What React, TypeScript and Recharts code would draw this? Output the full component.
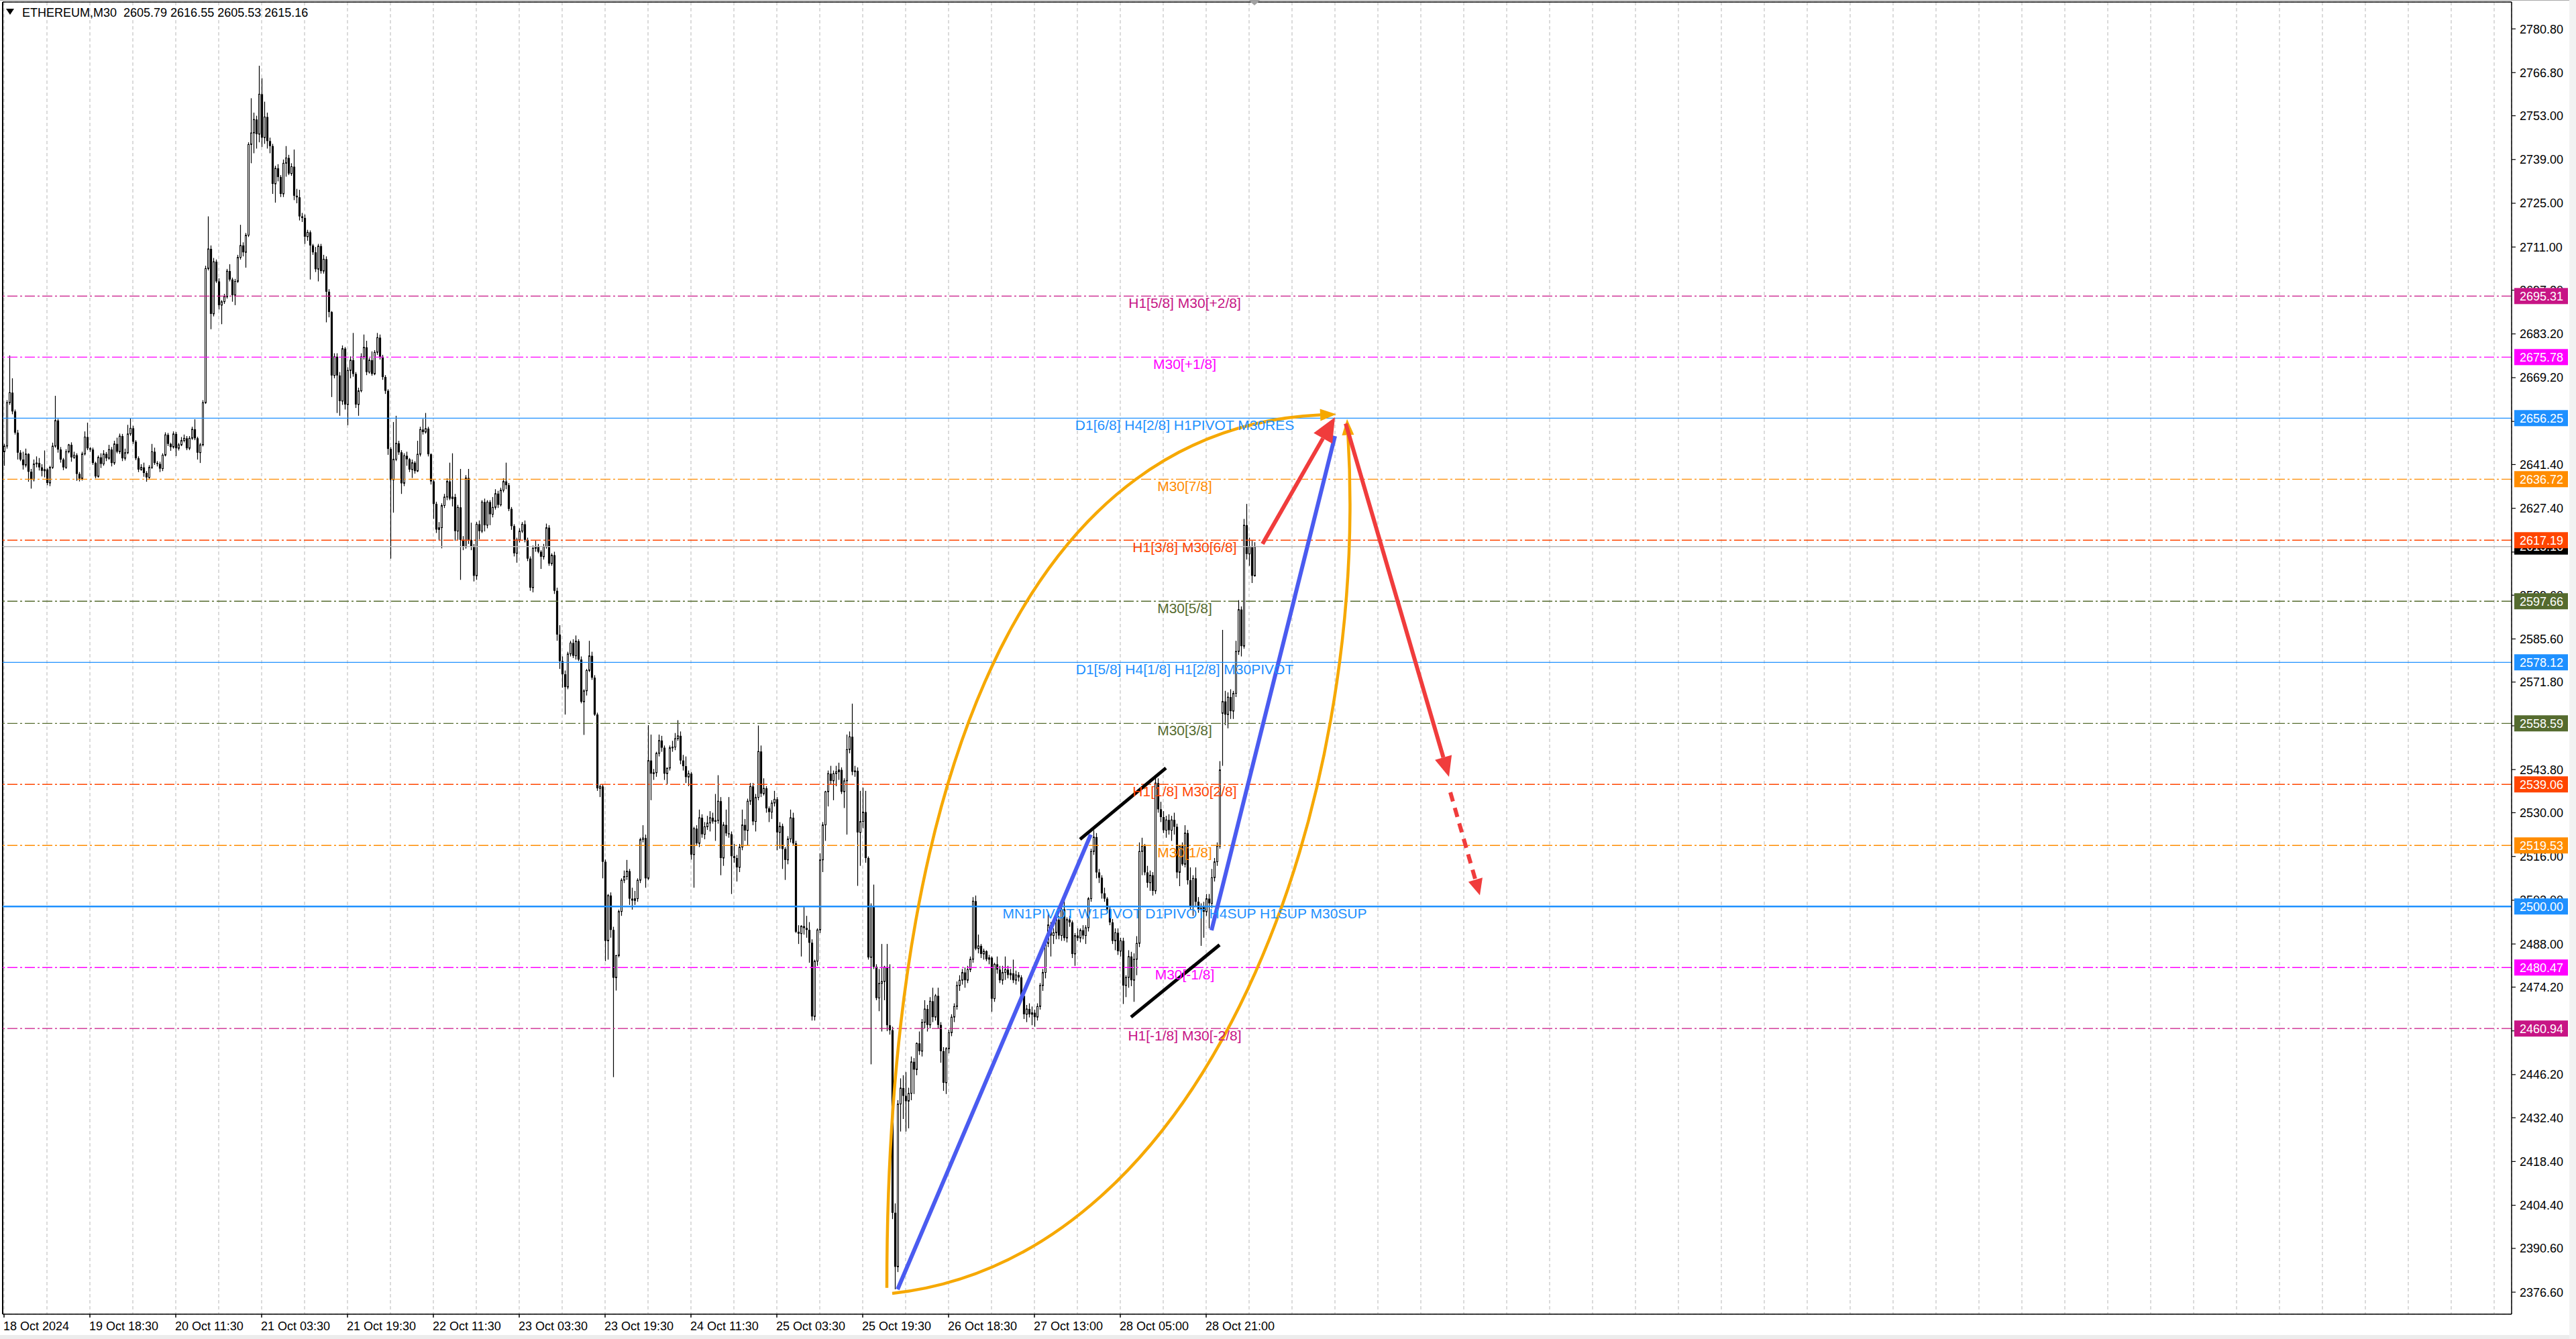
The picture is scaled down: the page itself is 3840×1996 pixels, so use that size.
import React from "react";
import {
  ComposedChart,
  Bar,
  XAxis,
  YAxis,
  CartesianGrid,
  ReferenceLine,
  ReferenceDot,
} from "recharts";

// ETHEREUM M30 candles: [open, high, low, close]
const OCT18_20 = [
  [2645.5, 2648.0, 2641.0, 2647.3], [2647.3, 2662.0, 2646.5, 2661.2], [2661.2, 2676.3, 2660.5, 2664.4], [2664.4, 2669.0, 2657.5, 2658.4],
  [2658.4, 2659.0, 2651.0, 2651.6], [2651.6, 2652.5, 2643.0, 2645.2], [2645.2, 2646.0, 2642.5, 2643.0], [2643.0, 2645.5, 2639.8, 2641.2],
  [2641.2, 2646.5, 2640.5, 2644.8], [2644.8, 2645.0, 2635.9, 2639.1], [2639.1, 2640.0, 2633.7, 2636.6], [2636.6, 2643.0, 2636.0, 2641.6],
  [2641.6, 2644.0, 2640.5, 2641.9], [2641.9, 2643.5, 2639.5, 2640.5], [2640.5, 2641.5, 2637.6, 2639.4], [2639.4, 2645.9, 2637.3, 2639.8],
  [2639.8, 2640.2, 2634.8, 2635.5], [2635.5, 2641.0, 2634.5, 2640.5], [2640.5, 2648.4, 2640.0, 2647.3], [2647.3, 2663.4, 2646.8, 2655.5],
  [2655.5, 2656.0, 2645.2, 2646.2], [2646.2, 2647.0, 2642.0, 2643.0], [2643.0, 2643.5, 2639.6, 2640.5], [2640.5, 2646.3, 2640.0, 2645.5],
  [2645.5, 2648.0, 2645.0, 2647.7], [2647.7, 2648.5, 2642.3, 2643.7], [2643.7, 2645.5, 2643.2, 2644.4], [2644.4, 2645.0, 2636.2, 2638.4],
  [2638.4, 2639.0, 2636.0, 2636.9], [2636.9, 2645.5, 2636.3, 2644.8], [2644.8, 2652.0, 2644.3, 2650.2], [2650.2, 2654.8, 2646.0, 2646.6],
  [2646.6, 2647.0, 2645.5, 2646.2], [2646.2, 2646.8, 2641.3, 2641.9], [2641.9, 2642.3, 2637.0, 2637.6], [2637.6, 2644.3, 2637.2, 2643.7],
  [2643.7, 2645.0, 2640.3, 2641.6], [2641.6, 2646.0, 2641.0, 2644.8], [2644.8, 2645.4, 2642.5, 2643.4], [2643.4, 2647.7, 2642.9, 2646.2],
  [2646.2, 2647.0, 2640.8, 2641.9], [2641.9, 2649.0, 2641.3, 2648.0], [2648.0, 2650.0, 2645.0, 2645.5], [2645.5, 2651.3, 2644.8, 2650.5],
  [2650.5, 2651.2, 2642.5, 2643.4], [2643.4, 2646.5, 2642.7, 2645.2], [2645.2, 2654.1, 2644.7, 2651.2], [2651.2, 2656.2, 2650.6, 2653.0],
  [2653.0, 2653.8, 2648.0, 2648.7], [2648.7, 2649.2, 2642.8, 2643.4], [2643.4, 2644.0, 2639.0, 2639.8], [2639.8, 2641.5, 2639.4, 2640.5],
  [2640.5, 2642.0, 2637.5, 2638.7], [2638.7, 2639.3, 2635.9, 2637.3], [2637.3, 2641.2, 2636.8, 2640.5], [2640.5, 2648.0, 2640.0, 2645.5],
  [2645.5, 2646.8, 2641.3, 2641.9], [2641.9, 2642.5, 2640.8, 2641.6], [2641.6, 2642.3, 2639.0, 2640.1], [2640.1, 2645.0, 2639.3, 2644.4],
  [2644.4, 2651.7, 2644.0, 2650.9], [2650.9, 2651.5, 2647.3, 2648.0], [2648.0, 2648.4, 2645.8, 2647.0], [2647.0, 2652.0, 2646.5, 2651.2],
  [2651.2, 2651.8, 2644.1, 2646.6], [2646.6, 2648.3, 2645.9, 2647.7], [2647.7, 2650.2, 2647.3, 2649.1], [2649.1, 2651.0, 2648.5, 2649.8],
  [2649.8, 2650.5, 2646.0, 2646.6], [2646.6, 2650.5, 2646.0, 2649.8], [2649.8, 2653.5, 2649.3, 2652.7], [2652.7, 2655.9, 2649.2, 2649.8],
  [2649.8, 2650.3, 2643.0, 2645.2], [2645.2, 2648.3, 2641.9, 2647.7], [2647.7, 2662.0, 2647.2, 2661.2],
];

const OCT20_23 = [
  [2661.2, 2705.0, 2660.8, 2704.1], [2704.1, 2720.8, 2703.5, 2710.4], [2710.4, 2711.5, 2684.7, 2689.6], [2689.6, 2707.5, 2688.8, 2706.3],
  [2706.3, 2707.0, 2699.5, 2700.0], [2700.0, 2701.0, 2691.0, 2692.4], [2692.4, 2694.0, 2686.3, 2693.5], [2693.5, 2696.0, 2692.8, 2695.1],
  [2695.1, 2704.0, 2694.5, 2703.3], [2703.3, 2705.5, 2700.0, 2700.6], [2700.6, 2701.2, 2693.5, 2695.6], [2695.6, 2700.8, 2692.4, 2700.0],
  [2700.0, 2708.5, 2699.5, 2707.7], [2707.7, 2718.1, 2707.0, 2711.5], [2711.5, 2712.5, 2708.0, 2709.3], [2709.3, 2715.5, 2704.4, 2714.8],
  [2714.8, 2744.5, 2714.2, 2743.8], [2743.8, 2758.6, 2737.8, 2747.5], [2747.5, 2754.0, 2741.0, 2751.8], [2751.8, 2753.0, 2742.5, 2747.1],
  [2747.1, 2769.0, 2744.5, 2759.9], [2759.9, 2765.0, 2743.0, 2746.0], [2746.0, 2757.5, 2744.0, 2752.6], [2752.6, 2754.0, 2742.5, 2744.9],
  [2744.9, 2746.0, 2741.0, 2743.3], [2743.3, 2744.0, 2728.0, 2731.2], [2731.2, 2737.0, 2725.2, 2736.2], [2736.2, 2737.5, 2732.0, 2733.4],
  [2733.4, 2734.0, 2727.0, 2728.0], [2728.0, 2739.0, 2727.0, 2737.8], [2737.8, 2743.3, 2733.5, 2739.5], [2739.5, 2740.5, 2734.0, 2734.5],
  [2734.5, 2737.8, 2733.8, 2736.7], [2736.7, 2742.2, 2726.0, 2727.4], [2727.4, 2729.6, 2725.0, 2726.9], [2726.9, 2729.3, 2719.5, 2720.8],
  [2720.8, 2721.9, 2719.0, 2720.3], [2720.3, 2721.4, 2712.0, 2714.3], [2714.3, 2716.5, 2713.0, 2715.7], [2715.7, 2716.3, 2700.6, 2711.5],
  [2711.5, 2712.0, 2708.5, 2709.3], [2709.3, 2711.0, 2703.0, 2703.9], [2703.9, 2712.0, 2700.0, 2711.3], [2711.3, 2712.0, 2702.5, 2703.3],
  [2703.3, 2708.5, 2702.5, 2707.1], [2707.1, 2708.0, 2686.9, 2696.7], [2696.7, 2697.5, 2688.5, 2690.2], [2690.2, 2690.5, 2663.0, 2669.9],
  [2669.9, 2677.0, 2669.0, 2675.9], [2675.9, 2677.0, 2657.9, 2669.9], [2669.9, 2671.0, 2657.0, 2661.7], [2661.7, 2679.5, 2660.5, 2678.5],
  [2678.5, 2679.0, 2659.0, 2660.6], [2660.6, 2672.5, 2654.0, 2671.5], [2671.5, 2676.0, 2669.0, 2674.8], [2674.8, 2683.5, 2669.5, 2670.4],
  [2670.4, 2671.0, 2659.5, 2660.6], [2660.6, 2666.0, 2657.0, 2665.0], [2665.0, 2677.0, 2664.5, 2675.9], [2675.9, 2683.0, 2675.0, 2678.9],
  [2678.9, 2681.0, 2670.0, 2671.0], [2671.0, 2675.5, 2670.5, 2674.8], [2674.8, 2677.6, 2669.8, 2670.4], [2670.4, 2678.0, 2670.0, 2677.3],
  [2677.3, 2683.5, 2676.5, 2682.0], [2682.0, 2683.0, 2675.0, 2675.9], [2675.9, 2676.5, 2668.5, 2669.4], [2669.4, 2670.0, 2664.0, 2665.0],
  [2665.0, 2665.5, 2644.5, 2646.4], [2646.4, 2647.0, 2611.3, 2636.5], [2636.5, 2655.0, 2626.0, 2643.1], [2643.1, 2657.0, 2642.5, 2648.2],
  [2648.2, 2649.0, 2644.5, 2645.3], [2645.3, 2646.0, 2632.0, 2635.4], [2635.4, 2645.0, 2634.5, 2644.2], [2644.2, 2645.5, 2641.0, 2643.1],
  [2643.1, 2643.5, 2639.0, 2639.8], [2639.8, 2643.0, 2637.1, 2642.0], [2642.0, 2642.5, 2638.5, 2639.3], [2639.3, 2649.0, 2639.0, 2644.7],
  [2644.7, 2653.5, 2644.0, 2652.6], [2652.6, 2656.0, 2651.0, 2651.8], [2651.8, 2657.9, 2651.3, 2652.9], [2652.9, 2653.5, 2644.0, 2644.7],
  [2644.7, 2645.0, 2635.0, 2636.0], [2636.0, 2636.5, 2624.0, 2628.8], [2628.8, 2629.5, 2619.5, 2620.6], [2620.6, 2623.0, 2617.0, 2621.2],
  [2621.2, 2629.0, 2614.6, 2628.3], [2628.3, 2632.0, 2627.5, 2631.0], [2631.0, 2637.0, 2630.0, 2636.0], [2636.0, 2642.0, 2630.0, 2630.5],
  [2630.5, 2645.0, 2628.0, 2631.0], [2631.0, 2632.0, 2617.0, 2620.1], [2620.1, 2628.5, 2617.3, 2627.7], [2627.7, 2640.0, 2604.5, 2617.3],
  [2617.3, 2618.5, 2614.0, 2615.1], [2615.1, 2638.0, 2614.5, 2637.1], [2637.1, 2640.0, 2616.0, 2617.3], [2617.3, 2622.8, 2614.0, 2615.1],
  [2615.1, 2616.0, 2604.0, 2605.8], [2605.8, 2623.0, 2604.5, 2622.3], [2622.3, 2623.5, 2617.5, 2620.1], [2620.1, 2630.0, 2619.5, 2629.4],
  [2629.4, 2630.5, 2620.0, 2622.0], [2622.0, 2630.0, 2621.0, 2629.4], [2629.4, 2630.0, 2622.0, 2625.5], [2625.5, 2631.0, 2624.5, 2627.7],
  [2627.7, 2633.5, 2627.0, 2632.1], [2632.1, 2633.0, 2627.5, 2628.5], [2628.5, 2634.0, 2628.0, 2633.2], [2633.2, 2637.0, 2632.5, 2636.0],
  [2636.0, 2642.0, 2633.5, 2634.8], [2634.8, 2635.5, 2626.5, 2627.2], [2627.2, 2627.8, 2620.5, 2621.7], [2621.7, 2622.3, 2612.0, 2613.0],
  [2613.0, 2618.0, 2610.0, 2617.3], [2617.3, 2621.0, 2616.5, 2620.1], [2620.1, 2623.0, 2619.5, 2622.3], [2622.3, 2623.5, 2616.5, 2617.3],
  [2617.3, 2618.0, 2610.5, 2611.3], [2611.3, 2612.0, 2601.0, 2602.0], [2602.0, 2615.5, 2600.5, 2614.6], [2614.6, 2617.0, 2613.5, 2615.1],
  [2615.1, 2616.0, 2613.0, 2613.5], [2613.5, 2614.0, 2608.0, 2611.9], [2611.9, 2616.0, 2611.0, 2615.1], [2615.1, 2622.5, 2614.5, 2621.2],
  [2621.2, 2622.0, 2609.0, 2609.7], [2609.7, 2613.0, 2609.0, 2612.4], [2612.4, 2613.5, 2600.0, 2601.0],
];

const OCT23_25 = [
  [2601.0, 2602.0, 2585.0, 2587.0], [2587.0, 2590.0, 2576.0, 2578.5], [2578.5, 2580.0, 2570.0, 2574.3], [2574.3, 2575.5, 2561.4, 2570.2],
  [2570.2, 2581.5, 2569.5, 2580.8], [2580.8, 2585.0, 2580.0, 2584.3], [2584.3, 2585.5, 2579.5, 2580.2], [2580.2, 2586.7, 2579.0, 2584.9],
  [2584.9, 2585.5, 2578.5, 2579.0], [2579.0, 2580.0, 2565.0, 2565.5], [2565.5, 2569.5, 2554.9, 2569.0], [2569.0, 2576.0, 2567.5, 2575.5],
  [2575.5, 2585.0, 2575.0, 2580.2], [2580.2, 2581.5, 2572.5, 2573.2], [2573.2, 2574.0, 2561.0, 2561.4], [2561.4, 2562.0, 2537.0, 2537.8],
  [2537.8, 2539.0, 2535.0, 2538.4], [2538.4, 2539.0, 2509.0, 2514.3], [2514.3, 2515.0, 2482.5, 2489.0], [2489.0, 2504.0, 2483.0, 2503.5],
  [2503.5, 2504.5, 2490.0, 2492.5], [2492.5, 2493.5, 2445.4, 2477.2], [2477.2, 2484.5, 2473.1, 2484.3], [2484.3, 2499.0, 2483.7, 2498.4],
  [2498.4, 2509.0, 2497.0, 2508.4], [2508.4, 2511.5, 2507.5, 2509.6], [2509.6, 2514.9, 2508.5, 2511.3], [2511.3, 2512.0, 2500.5, 2502.5],
  [2502.5, 2506.0, 2499.0, 2501.9], [2501.9, 2505.0, 2500.5, 2502.5], [2502.5, 2509.0, 2501.5, 2508.4], [2508.4, 2522.0, 2507.5, 2521.4],
  [2521.4, 2526.0, 2520.5, 2521.9], [2521.9, 2523.0, 2506.0, 2509.0], [2509.0, 2558.0, 2508.5, 2546.7], [2546.7, 2555.0, 2534.0, 2542.5],
  [2542.5, 2544.0, 2540.5, 2542.8], [2542.8, 2549.5, 2541.5, 2549.0], [2549.0, 2555.0, 2548.0, 2553.1], [2553.1, 2554.6, 2549.5, 2550.8],
  [2550.8, 2551.5, 2540.5, 2542.5], [2542.5, 2544.0, 2539.0, 2544.3], [2544.3, 2551.5, 2543.5, 2550.8], [2550.8, 2553.0, 2549.5, 2551.0],
  [2551.0, 2555.5, 2550.0, 2553.7], [2553.7, 2559.6, 2553.0, 2554.6], [2554.6, 2556.0, 2545.5, 2546.7], [2546.7, 2548.5, 2543.5, 2544.9],
  [2544.9, 2548.0, 2539.5, 2541.4], [2541.4, 2543.5, 2538.5, 2542.5], [2542.5, 2543.0, 2515.0, 2516.6], [2516.6, 2525.5, 2506.0, 2524.9],
  [2524.9, 2526.0, 2519.5, 2520.2], [2520.2, 2531.0, 2519.0, 2528.4], [2528.4, 2529.5, 2522.0, 2523.1], [2523.1, 2527.0, 2521.5, 2525.5],
  [2525.5, 2529.0, 2524.5, 2526.7], [2526.7, 2530.5, 2524.0, 2528.4], [2528.4, 2530.0, 2526.5, 2527.2], [2527.2, 2536.0, 2521.0, 2527.5],
  [2527.5, 2542.0, 2526.5, 2533.7], [2533.7, 2535.0, 2510.0, 2515.5], [2515.5, 2527.0, 2513.0, 2526.1], [2526.1, 2531.0, 2522.5, 2523.4],
  [2523.4, 2535.0, 2522.0, 2523.1], [2523.1, 2524.0, 2504.0, 2516.1], [2516.1, 2520.0, 2514.0, 2515.5], [2515.5, 2516.5, 2508.0, 2512.5],
  [2512.5, 2520.0, 2511.0, 2519.0], [2519.0, 2531.0, 2518.0, 2526.1], [2526.1, 2528.0, 2521.0, 2524.3], [2524.3, 2534.5, 2519.5, 2533.7],
  [2533.7, 2539.5, 2532.5, 2538.4], [2538.4, 2539.5, 2526.0, 2527.2], [2527.2, 2536.0, 2524.0, 2534.9], [2534.9, 2557.9, 2534.0, 2549.6],
  [2549.6, 2551.5, 2535.0, 2536.1], [2536.1, 2541.0, 2535.5, 2537.8], [2537.8, 2538.5, 2530.0, 2531.4], [2531.4, 2532.0, 2527.0, 2530.2],
  [2530.2, 2534.0, 2528.0, 2533.1], [2533.1, 2537.0, 2532.0, 2534.3], [2534.3, 2535.0, 2518.0, 2523.7], [2523.7, 2527.0, 2518.5, 2525.7],
  [2525.7, 2526.5, 2512.0, 2518.4], [2518.4, 2519.0, 2508.5, 2514.9], [2514.9, 2522.5, 2513.5, 2521.6], [2521.6, 2531.0, 2520.5, 2528.4],
  [2528.4, 2530.0, 2519.5, 2520.2], [2520.2, 2521.0, 2491.5, 2491.9], [2491.9, 2494.0, 2488.0, 2491.3], [2491.3, 2494.0, 2484.0, 2493.7],
  [2493.7, 2500.0, 2491.0, 2493.1], [2493.1, 2497.0, 2490.0, 2492.5], [2492.5, 2495.0, 2482.0, 2488.4], [2488.4, 2489.5, 2463.5, 2464.8],
  [2464.8, 2483.0, 2463.5, 2482.5], [2482.5, 2493.0, 2481.0, 2492.5], [2492.5, 2517.0, 2491.5, 2514.9], [2514.9, 2527.0, 2511.0, 2526.1],
  [2526.1, 2537.0, 2521.0, 2536.7], [2536.7, 2543.5, 2532.0, 2542.5], [2542.5, 2545.0, 2539.0, 2540.2], [2540.2, 2543.5, 2534.0, 2542.5],
  [2542.5, 2545.0, 2538.5, 2543.1], [2543.1, 2546.0, 2540.5, 2543.7], [2543.7, 2544.5, 2536.0, 2536.7], [2536.7, 2541.0, 2531.5, 2540.2],
  [2540.2, 2555.0, 2523.0, 2550.2], [2550.2, 2556.0, 2549.0, 2554.3], [2554.3, 2564.9, 2542.0, 2543.1], [2543.1, 2545.0, 2541.5, 2543.4],
  [2543.4, 2544.5, 2506.6, 2523.7], [2523.7, 2537.0, 2513.0, 2527.2], [2527.2, 2538.0, 2525.0, 2530.2], [2530.2, 2537.0, 2514.0, 2515.5],
  [2515.5, 2516.0, 2483.0, 2483.7], [2483.7, 2501.0, 2449.5, 2500.2], [2500.2, 2507.0, 2480.0, 2480.7], [2480.7, 2481.5, 2470.0, 2470.7],
  [2470.7, 2480.0, 2466.5, 2475.4], [2475.4, 2488.0, 2460.0, 2476.0], [2476.0, 2481.0, 2470.0, 2480.6], [2480.6, 2488.0, 2460.1, 2462.0],
  [2462.0, 2481.5, 2459.0, 2460.4], [2460.4, 2461.5, 2400.0, 2402.0], [2402.0, 2405.0, 2377.5, 2384.7], [2384.7, 2438.0, 2383.0, 2436.8],
];

const OCT26_29 = [
  [2436.8, 2445.0, 2428.0, 2441.9], [2441.9, 2446.0, 2432.0, 2439.4], [2439.4, 2447.0, 2428.0, 2437.7], [2437.7, 2442.0, 2429.0, 2440.2],
  [2440.2, 2452.0, 2438.0, 2450.3], [2450.3, 2451.5, 2440.0, 2447.8], [2447.8, 2456.5, 2446.0, 2456.2], [2456.2, 2460.0, 2452.5, 2453.7],
  [2453.7, 2464.0, 2452.0, 2462.9], [2462.9, 2470.0, 2461.0, 2467.2], [2467.2, 2468.5, 2460.0, 2462.1], [2462.1, 2471.0, 2461.0, 2469.7],
  [2469.7, 2474.0, 2463.0, 2464.6], [2464.6, 2472.0, 2463.5, 2471.4], [2471.4, 2474.0, 2461.0, 2462.1], [2462.1, 2463.0, 2450.0, 2453.7],
  [2453.7, 2455.0, 2441.0, 2443.6], [2443.6, 2455.0, 2440.0, 2454.5], [2454.5, 2460.5, 2453.0, 2459.6], [2459.6, 2465.5, 2458.5, 2464.6],
  [2464.6, 2469.0, 2463.0, 2468.0], [2468.0, 2476.0, 2467.0, 2474.7], [2474.7, 2478.0, 2473.0, 2476.4], [2476.4, 2480.0, 2475.0, 2478.9],
  [2478.9, 2480.5, 2474.0, 2476.4], [2476.4, 2481.0, 2475.5, 2479.8], [2479.8, 2484.0, 2479.0, 2483.1], [2483.1, 2503.0, 2482.0, 2501.7],
  [2501.7, 2503.5, 2486.0, 2486.5], [2486.5, 2491.0, 2485.0, 2487.4], [2487.4, 2488.0, 2483.5, 2484.8], [2484.8, 2486.5, 2483.0, 2485.7],
  [2485.7, 2486.0, 2482.5, 2483.1], [2483.1, 2484.5, 2481.5, 2483.6], [2483.6, 2484.0, 2466.3, 2470.5], [2470.5, 2482.0, 2469.5, 2481.5],
  [2481.5, 2484.0, 2478.5, 2479.8], [2479.8, 2481.0, 2475.5, 2476.4], [2476.4, 2481.0, 2475.0, 2478.9], [2478.9, 2484.0, 2476.5, 2479.8],
  [2479.8, 2481.0, 2477.0, 2478.1], [2478.1, 2480.0, 2476.5, 2478.6], [2478.6, 2483.0, 2475.5, 2476.4], [2476.4, 2479.5, 2475.0, 2478.1],
  [2478.1, 2479.0, 2476.0, 2477.3], [2477.3, 2478.0, 2471.0, 2471.4], [2471.4, 2472.0, 2464.0, 2465.5], [2465.5, 2468.5, 2463.0, 2467.2],
  [2467.2, 2469.0, 2464.5, 2465.5], [2465.5, 2468.0, 2462.0, 2466.0], [2466.0, 2467.0, 2461.5, 2464.6], [2464.6, 2469.0, 2463.5, 2468.0],
  [2468.0, 2475.5, 2467.0, 2474.7], [2474.7, 2480.0, 2473.0, 2478.9], [2478.9, 2489.0, 2477.0, 2488.2], [2488.2, 2498.0, 2487.0, 2494.1],
  [2494.1, 2495.0, 2484.0, 2490.7], [2490.7, 2493.0, 2488.0, 2491.6], [2491.6, 2496.5, 2489.5, 2495.8], [2495.8, 2497.0, 2489.5, 2490.7],
  [2490.7, 2500.0, 2489.0, 2499.1], [2499.1, 2503.5, 2489.0, 2489.9], [2489.9, 2496.5, 2488.5, 2495.8], [2495.8, 2497.0, 2493.5, 2494.9],
  [2494.9, 2495.5, 2483.5, 2484.8], [2484.8, 2491.5, 2481.0, 2490.7], [2490.7, 2493.0, 2489.0, 2489.9], [2489.9, 2493.0, 2488.5, 2492.4],
  [2492.4, 2494.0, 2489.5, 2490.7], [2490.7, 2494.0, 2488.0, 2493.2], [2493.2, 2503.0, 2492.0, 2502.5], [2502.5, 2518.5, 2501.5, 2517.6],
  [2517.6, 2524.4, 2516.5, 2522.2], [2522.2, 2523.5, 2509.0, 2510.9], [2510.9, 2512.0, 2507.5, 2509.2], [2509.2, 2510.0, 2502.5, 2504.2],
  [2504.2, 2506.0, 2501.5, 2502.5], [2502.5, 2503.0, 2498.0, 2499.1], [2499.1, 2500.0, 2494.0, 2494.9], [2494.9, 2496.0, 2488.0, 2489.0],
  [2489.0, 2493.0, 2486.0, 2491.6], [2491.6, 2493.0, 2484.5, 2485.7], [2485.7, 2490.0, 2484.0, 2489.0], [2489.0, 2490.0, 2468.8, 2474.7],
  [2474.7, 2478.0, 2471.0, 2477.3], [2477.3, 2486.0, 2474.0, 2484.0], [2484.0, 2485.5, 2474.5, 2476.4], [2476.4, 2485.0, 2469.5, 2483.1],
  [2483.1, 2490.5, 2478.0, 2488.2], [2488.2, 2520.5, 2487.0, 2517.6], [2517.6, 2522.0, 2510.0, 2519.3], [2519.3, 2520.0, 2510.0, 2510.9],
  [2510.9, 2513.0, 2506.0, 2507.6], [2507.6, 2511.5, 2505.0, 2510.0], [2510.0, 2511.0, 2503.5, 2505.0], [2505.0, 2541.5, 2504.0, 2539.5],
  [2539.5, 2541.0, 2530.0, 2531.1], [2531.1, 2533.5, 2527.0, 2528.6], [2528.6, 2530.5, 2523.5, 2524.4], [2524.4, 2529.0, 2522.0, 2527.7],
  [2527.7, 2529.5, 2523.0, 2524.4], [2524.4, 2529.0, 2521.0, 2527.7], [2527.7, 2530.0, 2523.0, 2525.5], [2525.5, 2526.5, 2509.0, 2510.9],
  [2510.9, 2519.5, 2506.5, 2519.3], [2519.3, 2520.5, 2513.0, 2513.5], [2513.5, 2526.0, 2512.5, 2523.5], [2523.5, 2524.5, 2507.0, 2508.4],
  [2508.4, 2512.5, 2499.0, 2500.0], [2500.0, 2510.0, 2497.0, 2509.0], [2509.0, 2512.5, 2500.0, 2501.5], [2501.5, 2503.0, 2498.0, 2499.1],
  [2499.1, 2501.0, 2487.4, 2500.0], [2500.0, 2501.5, 2490.0, 2498.3], [2498.3, 2504.0, 2497.0, 2502.5], [2502.5, 2504.0, 2493.0, 2501.0],
  [2501.0, 2512.0, 2499.5, 2509.2], [2509.2, 2515.5, 2508.0, 2514.3], [2514.3, 2520.5, 2513.0, 2519.3], [2519.3, 2546.5, 2518.5, 2543.7],
  [2561.8, 2588.5, 2545.0, 2565.6], [2565.6, 2569.0, 2558.0, 2561.4], [2561.4, 2568.5, 2557.0, 2567.0], [2567.0, 2569.5, 2560.0, 2562.5],
  [2562.5, 2569.0, 2560.0, 2568.2], [2568.2, 2585.0, 2567.0, 2581.6], [2581.6, 2598.0, 2580.5, 2595.0], [2595.0, 2596.0, 2580.0, 2583.3],
  [2583.3, 2624.0, 2582.5, 2622.0], [2622.0, 2628.8, 2611.0, 2612.8], [2612.8, 2618.0, 2609.0, 2615.0], [2615.0, 2617.0, 2603.5, 2605.8],
  [2605.79, 2616.55, 2605.53, 2615.16],
];

// one label every 32 bars
const TIME_LABELS = [
  "18 Oct 2024", "19 Oct 18:30", "20 Oct 11:30", "21 Oct 03:30", "21 Oct 19:30", "22 Oct 11:30", "23 Oct 03:30", "23 Oct 19:30",
  "24 Oct 11:30", "25 Oct 03:30", "25 Oct 19:30", "26 Oct 18:30", "27 Oct 13:00", "28 Oct 05:00", "28 Oct 21:00",
];

const PRICE_TICKS = [
  2376.6, 2390.6, 2404.4, 2418.4, 2432.4, 2446.2, 2460.2, 2474.2, 2488.0, 2502.0, 2516.0, 2530.0, 2543.8, 2557.8, 2571.8,
  2585.6, 2599.6, 2613.4, 2627.4, 2641.4, 2655.2, 2669.2, 2683.2, 2697.2, 2711.0, 2725.0, 2739.0, 2753.0, 2766.8, 2780.8,
];

// Murrey-math style levels
const LEVEL_PRICES = [2695.31, 2675.78, 2656.25, 2636.72, 2617.19, 2597.66, 2578.12, 2558.59, 2539.06, 2519.53, 2500.0, 2480.47, 2460.94];
const LEVEL_TEXTS = [
  "H1[5/8] M30[+2/8]", "M30[+1/8]", "D1[6/8] H4[2/8] H1PIVOT M30RES", "M30[7/8]", "H1[3/8] M30[6/8]", "M30[5/8]",
  "D1[5/8] H4[1/8] H1[2/8] M30PIVOT", "M30[3/8]", "H1[1/8] M30[2/8]", "M30[1/8]",
  "MN1PIVOT W1PIVOT D1PIVOT H4SUP H1SUP M30SUP", "M30[-1/8]", "H1[-1/8] M30[-2/8]",
];
const BID = 2615.16;
const LEVEL_TEXT_BAR = 440;

// drawn objects: [bar1, price1, bar2, price2]
const TREND_LINES = [[333, 2377.5, 405, 2523.0], [450, 2492.4, 496, 2650.5]];
const CHANNEL_LINES = [[401, 2521.5, 433, 2544.3], [420, 2464.6, 453, 2487.7]];
const FORECAST_ARROWS = [[469, 2616.0, 496, 2656.5], [500, 2654.5, 538.5, 2541.5]];
const FORECAST_DASHED = [539, 2536.5, 550, 2503.6];
const ARC_LEFT = [329, 2378.0, 496.5, 2657.5];
const ARC_RIGHT = [331, 2376.2, 500.5, 2656.0];

// ---- styles ----
const FONT = '"Liberation Sans", Arial, sans-serif';
const LEVEL_COLORS = ["#C71585", "#FF00FF", "#1E90FF", "#FF8C00", "#FF4500", "#556B2F", "#1E90FF", "#556B2F", "#FF4500", "#FF8C00", "#1E90FF", "#FF00FF", "#C71585"];
const BLUE = "#4A5BF0";
const RED = "#F03C3C";
const ORANGE = "#F6A800";
const SLOTS = 935;
const Y_DOMAIN: [number, number] = [2369.55, 2789.39];

const CANDLES = [...OCT18_20, ...OCT20_23, ...OCT23_25, ...OCT26_29];
const chartData = CANDLES.map((k, i) => ({ i, o: k[0], h: k[1], l: k[2], c: k[3], range: [k[2], k[1]] }));
const GRID_TICKS = Array.from({ length: 59 }, (_, n) => n * 16);
// a tick label that sits right under a price tag is not drawn (it is hidden there in MT4 too)
const TAGGED = [...LEVEL_PRICES, BID];
const LABELED_TICKS = PRICE_TICKS.filter((t) => TAGGED.every((p) => Math.abs(p - t) > 1.8));

function CandleShape(props: any) {
  const { x, y, width, height, payload } = props;
  if (!payload || x == null || y == null) return null;
  let top = y;
  let h = height;
  if (h < 0) {
    top = y + h;
    h = -h;
  }
  const k = h / (payload.h - payload.l || 1);
  const cx = Math.round(x + width / 2) + 0.5;
  const yo = top + (payload.h - payload.o) * k;
  const yc = top + (payload.h - payload.c) * k;
  const bodyTop = Math.min(yo, yc);
  const bodyH = Math.max(Math.abs(yc - yo), 1.2);
  const bull = payload.c >= payload.o;
  return (
    <g>
      <line x1={cx} x2={cx} y1={top} y2={top + h} stroke="#000" strokeWidth={1.2} />
      {bull ? (
        <rect x={cx - 1} y={bodyTop} width={2} height={bodyH} fill="#fff" stroke="#000" strokeWidth={1} />
      ) : (
        <rect x={cx - 1.6} y={bodyTop} width={3.2} height={bodyH} fill="#000" />
      )}
    </g>
  );
}

function TimeTick(props: any) {
  const { x, y, payload } = props;
  const n = payload.value / 32;
  const label = Number.isInteger(n) ? TIME_LABELS[n] : undefined;
  if (!label) return null;
  return (
    <g>
      <line x1={x} x2={x} y1={y} y2={y + 5} stroke="#000" strokeWidth={1.5} />
      <text x={x - 1} y={y + 24} fontSize={18} fontFamily={FONT} fill="#000">
        {label}
      </text>
    </g>
  );
}

function head(x2: number, y2: number, ang: number, len: number, wid: number) {
  const bx = x2 - len * Math.cos(ang);
  const by = y2 - len * Math.sin(ang);
  const px = (-Math.sin(ang) * wid) / 2;
  const py = (Math.cos(ang) * wid) / 2;
  return { bx, by, pts: `${x2},${y2} ${bx + px},${by + py} ${bx - px},${by - py}` };
}

function ArrowShape(props: any) {
  const { x1, y1, x2, y2, color, w, dashed, hl, hw } = props;
  const ang = Math.atan2(y2 - y1, x2 - x1);
  const hd = head(x2, y2, ang, hl, hw);
  return (
    <g>
      <line x1={x1} y1={y1} x2={hd.bx} y2={hd.by} stroke={color} strokeWidth={w} strokeDasharray={dashed ? "14 10" : undefined} />
      <polygon points={hd.pts} fill={color} />
    </g>
  );
}

function ArcShape(props: any) {
  const { x1, y1, x2, y2, bend } = props;
  const dx = x2 - x1;
  const dy = y2 - y1;
  const c1x = x1 + bend[0] * dx;
  const c1y = y1 + bend[1] * dy;
  const c2x = x1 + bend[2] * dx;
  const c2y = y1 + bend[3] * dy;
  const ang = Math.atan2(y2 - c2y, x2 - c2x);
  const hd = head(x2, y2, ang, 24, 18);
  return (
    <g>
      <path d={`M${x1},${y1} C${c1x},${c1y} ${c2x},${c2y} ${hd.bx},${hd.by}`} fill="none" stroke={ORANGE} strokeWidth={4.5} />
      <polygon points={hd.pts} fill={ORANGE} />
    </g>
  );
}

function seg(s: number[]) {
  return [{ x: s[0], y: s[1] }, { x: s[2], y: s[3] }];
}

function PriceTag({ cx, cy, fill, text }: { cx: number; cy: number; fill: string; text: string }) {
  return (
    <g>
      <rect x={cx + 6} y={cy - 12} width={80} height={24} fill={fill} />
      <text x={cx + 14} y={cy + 6.5} fill="#fff" fontSize={18} fontFamily={FONT}>
        {text}
      </text>
    </g>
  );
}

export default function App() {
  const last = CANDLES[CANDLES.length - 1];
  const title = `ETHEREUM,M30  ${last.map((v) => v.toFixed(2)).join(" ")}`;
  return (
    <div style={{ position: "absolute", left: 0, top: 0, width: 3840, height: 1996, background: "#fff", overflow: "hidden" }}>
      <div style={{ position: "absolute", left: 0, top: 0, width: 3840, height: 1, background: "#a8a8a8" }} />
      <div style={{ position: "absolute", left: 0, top: 1990, width: 3840, height: 6, background: "#ececec" }} />
      <div style={{ position: "absolute", left: 3830, top: 0, width: 10, height: 1996, background: "#f2f2f2" }} />
      <ComposedChart
        width={3840}
        height={1996}
        data={chartData}
        margin={{ top: 3, right: 0, bottom: 7, left: 4 }}
        barCategoryGap={0}
        style={{ position: "absolute", left: 0, top: 0 }}
      >
        <CartesianGrid stroke="#c4c4c4" strokeDasharray="5 4" strokeWidth={1.2} />
        <XAxis
          dataKey="i"
          type="number"
          domain={[-0.5, SLOTS - 0.5]}
          ticks={GRID_TICKS}
          interval={0}
          allowDataOverflow
          height={30}
          tickSize={0}
          tickMargin={0}
          tickLine={false}
          axisLine={{ stroke: "#000", strokeWidth: 1.5 }}
          tick={<TimeTick />}
        />
        <YAxis
          orientation="right"
          type="number"
          domain={Y_DOMAIN}
          ticks={PRICE_TICKS}
          interval={0}
          allowDataOverflow
          width={96}
          axisLine={{ stroke: "#000", strokeWidth: 1.5 }}
          tick={false}
          tickLine={false}
        />
        <ReferenceLine y={Y_DOMAIN[1]} stroke="#000" strokeWidth={1.5} />
        <ReferenceLine x={-0.5} stroke="#000" strokeWidth={2} />
        {LEVEL_PRICES.map((p, n) => {
          const solid = LEVEL_COLORS[n] === "#1E90FF";
          return (
            <ReferenceLine
              key={`lv${n}`}
              y={p}
              stroke={LEVEL_COLORS[n]}
              strokeWidth={p === 2500 ? 2.4 : 1.3}
              strokeDasharray={solid ? undefined : "15 4 3 4"}
            />
          );
        })}
        <ReferenceLine y={BID} stroke="#b8b8b8" strokeWidth={1.5} />
        <Bar dataKey="range" barSize={4} shape={<CandleShape />} isAnimationActive={false} />
        {LEVEL_PRICES.map((p, n) => (
          <ReferenceDot
            key={`lt${n}`}
            x={LEVEL_TEXT_BAR}
            y={p}
            r={0}
            shape={(s: any) => (
              <text x={s.cx} y={s.cy + 18} textAnchor="middle" fill={LEVEL_COLORS[n]} fontSize={21} fontFamily={FONT}>
                {LEVEL_TEXTS[n]}
              </text>
            )}
          />
        ))}
        {PRICE_TICKS.map((t) => (
          <ReferenceDot
            key={`yt${t}`}
            x={SLOTS - 1}
            y={t}
            r={0}
            shape={(s: any) => (
              <g>
                <line x1={s.cx + 2} x2={s.cx + 8} y1={s.cy} y2={s.cy} stroke="#000" strokeWidth={1.2} />
                {LABELED_TICKS.includes(t) && (
                  <text x={s.cx + 14} y={s.cy + 6.5} fill="#000" fontSize={18} fontFamily={FONT}>
                    {t.toFixed(2)}
                  </text>
                )}
              </g>
            )}
          />
        ))}
        <ReferenceDot x={SLOTS - 1} y={BID} r={0} shape={(s: any) => <PriceTag cx={s.cx} cy={s.cy} fill="#000" text={BID.toFixed(2)} />} />
        {LEVEL_PRICES.map((p, n) => (
          <ReferenceDot
            key={`tag${n}`}
            x={SLOTS - 1}
            y={p}
            r={0}
            shape={(s: any) => <PriceTag cx={s.cx} cy={s.cy} fill={LEVEL_COLORS[n]} text={p.toFixed(2)} />}
          />
        ))}
        <ReferenceDot
          x={CANDLES.length - 1}
          y={Y_DOMAIN[1]}
          r={0}
          shape={(s: any) => <polygon points={`${s.cx - 9},${s.cy - 3} ${s.cx + 9},${s.cy - 3} ${s.cx},${s.cy + 5}`} fill="#a0a0a0" />}
        />
        {CHANNEL_LINES.map((s, n) => (
          <ReferenceLine key={`ch${n}`} segment={seg(s)} stroke="#000" strokeWidth={5} />
        ))}
        <ReferenceLine segment={seg(ARC_LEFT)} shape={(p: any) => <ArcShape {...p} bend={[0, 0.63, 0.35, 0.985]} />} />
        <ReferenceLine segment={seg(ARC_RIGHT)} shape={(p: any) => <ArcShape {...p} bend={[0.7, 0.04, 1.05, 0.56]} />} />
        {TREND_LINES.map((s, n) => (
          <ReferenceLine key={`tr${n}`} segment={seg(s)} stroke={BLUE} strokeWidth={6} />
        ))}
        {FORECAST_ARROWS.map((s, n) => (
          <ReferenceLine
            key={`ar${n}`}
            segment={seg(s)}
            shape={(p: any) => <ArrowShape {...p} color={RED} w={6} hl={n === 0 ? 36 : 30} hw={n === 0 ? 32 : 26} />}
          />
        ))}
        <ReferenceLine
          segment={seg(FORECAST_DASHED)}
          shape={(p: any) => <ArrowShape {...p} color={RED} w={6} dashed hl={24} hw={22} />}
        />
      </ComposedChart>
      <svg style={{ position: "absolute", left: 8, top: 12 }} width={14} height={12}>
        <polygon points="1,1 13,1 7,10" fill="#000" />
      </svg>
      <div
        style={{
          position: "absolute",
          left: 33,
          top: 8,
          fontFamily: FONT,
          fontSize: 18,
          color: "#000",
          whiteSpace: "pre",
          lineHeight: "22px",
        }}
      >
        {title}
      </div>
    </div>
  );
}
